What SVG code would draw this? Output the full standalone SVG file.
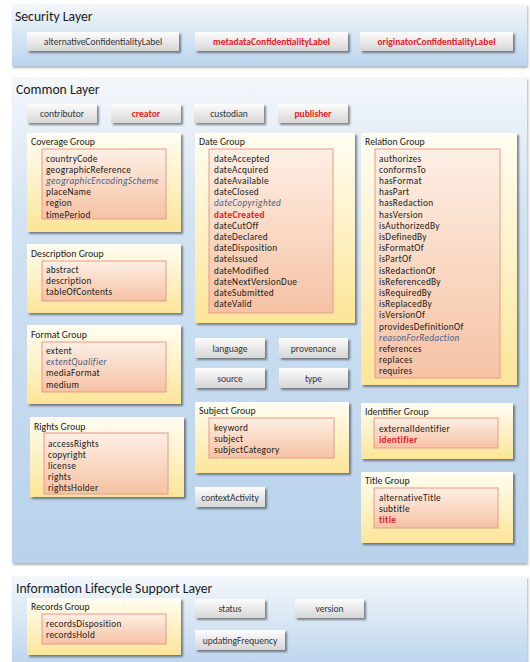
<svg xmlns="http://www.w3.org/2000/svg" width="530" height="662" viewBox="0 0 530 662">
<defs>
<linearGradient id="gPanel" x1="0" y1="0" x2="0" y2="1"><stop offset="0" stop-color="#f3f7fb"/><stop offset="1" stop-color="#bcd5ed"/></linearGradient>
<linearGradient id="gPanelTall" x1="0" y1="0" x2="0" y2="1"><stop offset="0" stop-color="#f3f7fb"/><stop offset="0.3" stop-color="#d2e2f2"/><stop offset="1" stop-color="#b8d2eb"/></linearGradient>
<linearGradient id="gBtn" x1="0" y1="0" x2="0" y2="1"><stop offset="0" stop-color="#fdfdfd"/><stop offset="1" stop-color="#d6d6d6"/></linearGradient>
<linearGradient id="gGrp" x1="0" y1="0" x2="0" y2="1"><stop offset="0" stop-color="#fffdf3"/><stop offset="0.55" stop-color="#fef0c2"/><stop offset="1" stop-color="#fce597"/></linearGradient>
<linearGradient id="gIn" x1="0" y1="0" x2="0" y2="1"><stop offset="0" stop-color="#fdefe4"/><stop offset="1" stop-color="#f6c2a4"/></linearGradient>
<filter id="sh" x="-10%" y="-10%" width="125%" height="130%"><feDropShadow dx="2" dy="2" stdDeviation="1.2" flood-color="#000" flood-opacity="0.45"/></filter>
<filter id="shP" x="-5%" y="-5%" width="110%" height="115%"><feDropShadow dx="1" dy="2" stdDeviation="1.2" flood-color="#000" flood-opacity="0.3"/></filter>
</defs>
<style>
text{font-family:Carlito,Lato,"Liberation Sans",sans-serif;fill:#1a1a1a}
.h{font-size:13.7px}
.btn{fill:url(#gBtn);filter:url(#sh)}
.bt{font-size:9.5px;fill:#333;text-anchor:middle}
.red{fill:#e41e26;font-weight:bold}
.grp{fill:url(#gGrp);filter:url(#sh)}
.gt{font-size:9.8px}
.in{fill:url(#gIn);stroke:#e89a8a;stroke-width:1}
.it{font-size:9.3px;letter-spacing:0.3px}
.ital{font-style:italic;fill:#4e5f86}
</style>

<g id="security-layer">
<rect x="12" y="4" width="515" height="62" fill="url(#gPanel)" filter="url(#shP)"/>
<text class="h" x="15" y="21">Security Layer</text>
</g>
<g id="alternativeConfidentialityLabel"><rect class="btn" x="27" y="32" width="152" height="19"/><text class="bt" x="103" y="44.5">alternativeConfidentialityLabel</text></g>
<g id="metadataConfidentialityLabel"><rect class="btn" x="195" y="32" width="153" height="19"/><text class="bt red" x="271.5" y="44.5">metadataConfidentialityLabel</text></g>
<g id="originatorConfidentialityLabel"><rect class="btn" x="360" y="32" width="153" height="19"/><text class="bt red" x="436.5" y="44.5">originatorConfidentialityLabel</text></g>

<g id="common-layer">
<rect x="12" y="77" width="515" height="486" fill="url(#gPanelTall)" filter="url(#shP)"/>
<text class="h" x="16" y="93.5">Common Layer</text>
</g>
<g id="contributor"><rect class="btn" x="27" y="104" width="70" height="19"/><text class="bt" x="62" y="117">contributor</text></g>
<g id="creator"><rect class="btn" x="111" y="104" width="70" height="19"/><text class="bt red" x="146" y="117">creator</text></g>
<g id="custodian"><rect class="btn" x="194" y="104" width="70" height="19"/><text class="bt" x="229" y="117">custodian</text></g>
<g id="publisher"><rect class="btn" x="278" y="104" width="70" height="19"/><text class="bt red" x="313" y="117">publisher</text></g>

<g id="coverage-group">
<rect class="grp" x="27" y="133" width="154" height="99"/>
<text class="gt" x="31" y="145">Coverage Group</text>
<rect class="in" x="42" y="149" width="124" height="70"/>
<text class="it" x="46" y="161.5">countryCode</text>
<text class="it" x="46" y="172.7">geographicReference</text>
<text class="it ital" x="46" y="183.9">geographicEncodingScheme</text>
<text class="it" x="46" y="195.1">placeName</text>
<text class="it" x="46" y="206.3">region</text>
<text class="it" x="46" y="217.5">timePeriod</text>
</g>

<g id="description-group">
<rect class="grp" x="27" y="244" width="154" height="69"/>
<text class="gt" x="31" y="256.5">Description Group</text>
<rect class="in" x="42" y="261" width="124" height="40"/>
<text class="it" x="46" y="272.5">abstract</text>
<text class="it" x="46" y="283.7">description</text>
<text class="it" x="46" y="294.9">tableOfContents</text>
</g>

<g id="format-group">
<rect class="grp" x="27" y="325" width="154" height="79"/>
<text class="gt" x="31" y="337.5">Format Group</text>
<rect class="in" x="42" y="342" width="124" height="50"/>
<text class="it" x="46" y="354">extent</text>
<text class="it ital" x="46" y="365.2">extentQualifier</text>
<text class="it" x="46" y="376.4">mediaFormat</text>
<text class="it" x="46" y="387.6">medium</text>
</g>

<g id="rights-group">
<rect class="grp" x="30" y="417" width="154" height="80"/>
<text class="gt" x="34" y="430">Rights Group</text>
<rect class="in" x="44" y="433" width="124" height="61"/>
<text class="it" x="48" y="446.5">accessRights</text>
<text class="it" x="48" y="457.7">copyright</text>
<text class="it" x="48" y="468.9">license</text>
<text class="it" x="48" y="480.1">rights</text>
<text class="it" x="48" y="491.3">rightsHolder</text>
</g>

<g id="date-group">
<rect class="grp" x="195" y="133" width="160" height="190"/>
<text class="gt" x="199" y="145">Date Group</text>
<rect class="in" x="209" y="149" width="124" height="164"/>
<text class="it" x="214" y="161.5">dateAccepted</text>
<text class="it" x="214" y="172.7">dateAcquired</text>
<text class="it" x="214" y="183.9">dateAvailable</text>
<text class="it" x="214" y="195.1">dateClosed</text>
<text class="it ital" x="214" y="206.3">dateCopyrighted</text>
<text class="it red" x="214" y="217.5">dateCreated</text>
<text class="it" x="214" y="228.7">dateCutOff</text>
<text class="it" x="214" y="239.9">dateDeclared</text>
<text class="it" x="214" y="251.1">dateDisposition</text>
<text class="it" x="214" y="262.3">dateIssued</text>
<text class="it" x="214" y="273.5">dateModified</text>
<text class="it" x="214" y="284.7">dateNextVersionDue</text>
<text class="it" x="214" y="295.9">dateSubmitted</text>
<text class="it" x="214" y="307.1">dateValid</text>
</g>

<g id="relation-group">
<rect class="grp" x="361" y="133" width="156" height="252"/>
<text class="gt" x="365" y="145">Relation Group</text>
<rect class="in" x="375" y="149" width="125" height="229"/>
<text class="it" x="379" y="161.5">authorizes</text>
<text class="it" x="379" y="172.7">conformsTo</text>
<text class="it" x="379" y="183.9">hasFormat</text>
<text class="it" x="379" y="195.1">hasPart</text>
<text class="it" x="379" y="206.3">hasRedaction</text>
<text class="it" x="379" y="217.5">hasVersion</text>
<text class="it" x="379" y="228.7">isAuthorizedBy</text>
<text class="it" x="379" y="239.9">isDefinedBy</text>
<text class="it" x="379" y="251.1">isFormatOf</text>
<text class="it" x="379" y="262.3">isPartOf</text>
<text class="it" x="379" y="273.5">isRedactionOf</text>
<text class="it" x="379" y="284.7">isReferencedBy</text>
<text class="it" x="379" y="295.9">isRequiredBy</text>
<text class="it" x="379" y="307.1">isReplacedBy</text>
<text class="it" x="379" y="318.3">isVersionOf</text>
<text class="it" x="379" y="329.5">providesDefinitionOf</text>
<text class="it ital" x="379" y="340.7">reasonForRedaction</text>
<text class="it" x="379" y="351.9">references</text>
<text class="it" x="379" y="363.1">replaces</text>
<text class="it" x="379" y="374.3">requires</text>
</g>

<g id="language"><rect class="btn" x="195" y="338" width="70" height="20"/><text class="bt" x="230" y="351.5">language</text></g>
<g id="provenance"><rect class="btn" x="279" y="338" width="69" height="20"/><text class="bt" x="313.5" y="351.5">provenance</text></g>
<g id="source"><rect class="btn" x="195" y="368" width="70" height="20"/><text class="bt" x="230" y="381.5">source</text></g>
<g id="type"><rect class="btn" x="279" y="368" width="69" height="20"/><text class="bt" x="313.5" y="381.5">type</text></g>

<g id="subject-group">
<rect class="grp" x="195" y="402" width="154" height="71"/>
<text class="gt" x="199" y="414">Subject Group</text>
<rect class="in" x="209" y="418" width="125" height="40"/>
<text class="it" x="214" y="430.5">keyword</text>
<text class="it" x="214" y="441.7">subject</text>
<text class="it" x="214" y="452.9">subjectCategory</text>
</g>

<g id="contextActivity"><rect class="btn" x="195" y="487" width="70" height="20"/><text class="bt" x="230" y="500.5">contextActivity</text></g>

<g id="identifier-group">
<rect class="grp" x="361" y="403" width="152" height="56"/>
<text class="gt" x="365" y="415">Identifier Group</text>
<rect class="in" x="374" y="418" width="124" height="30"/>
<text class="it" x="379" y="431.5">externalIdentifier</text>
<text class="it red" x="379" y="442.7">identifier</text>
</g>

<g id="title-group">
<rect class="grp" x="361" y="472" width="152" height="71"/>
<text class="gt" x="365" y="484">Title Group</text>
<rect class="in" x="374" y="488" width="124" height="40"/>
<text class="it" x="379" y="500.5">alternativeTitle</text>
<text class="it" x="379" y="511.7">subtitle</text>
<text class="it red" x="379" y="522.9">title</text>
</g>

<g id="information-lifecycle-support-layer">
<rect x="12" y="576" width="515" height="90" fill="url(#gPanel)" filter="url(#shP)"/>
<text class="h" x="16" y="593">Information Lifecycle Support Layer</text>
</g>
<g id="records-group">
<rect class="grp" x="27" y="598" width="154" height="57"/>
<text class="gt" x="31" y="610">Records Group</text>
<rect class="in" x="42" y="614" width="124" height="30"/>
<text class="it" x="46" y="627">recordsDisposition</text>
<text class="it" x="46" y="638.2">recordsHold</text>
</g>
<g id="status"><rect class="btn" x="195" y="599" width="70" height="19"/><text class="bt" x="230" y="612">status</text></g>
<g id="version"><rect class="btn" x="295" y="599" width="69" height="19"/><text class="bt" x="329.5" y="612">version</text></g>
<g id="updatingFrequency"><rect class="btn" x="195" y="630" width="90" height="20"/><text class="bt" x="240" y="643.5">updatingFrequency</text></g>

<g id="connectors"/>
</svg>
